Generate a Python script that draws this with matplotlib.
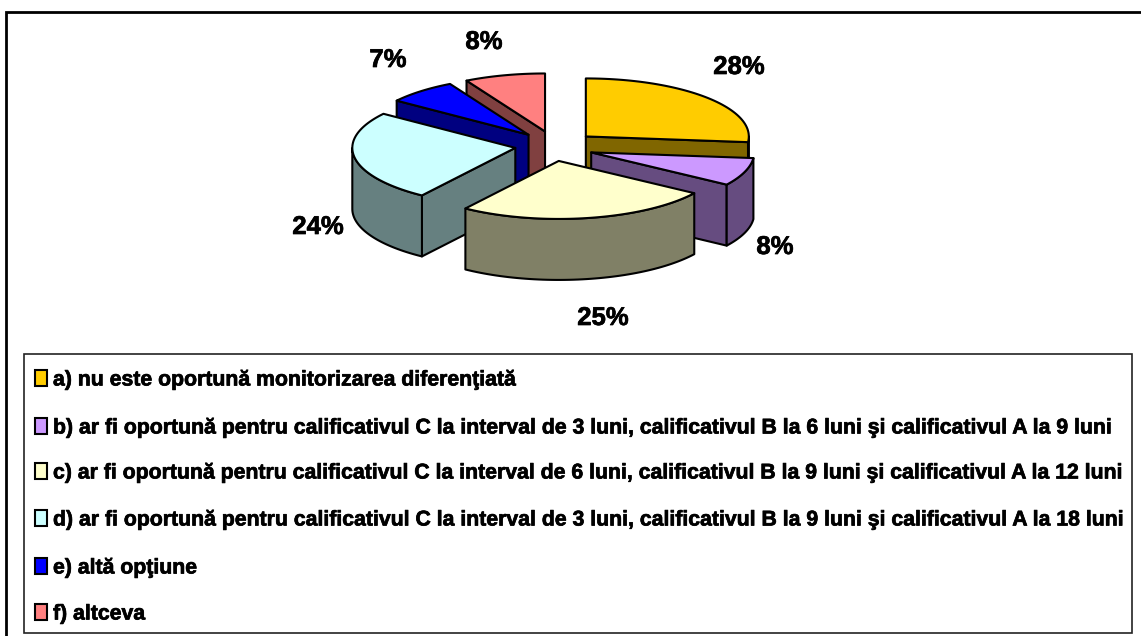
import numpy as np
import matplotlib
matplotlib.use("Agg")
import matplotlib.pyplot as plt
import matplotlib.patheffects as pe
from matplotlib.patches import Polygon, Rectangle

plt.rcParams['font.family'] = ['Liberation Sans', 'DejaVu Sans']

# percent values of the slices, clockwise from 12 o'clock
values = [28, 8, 25, 24, 7, 8]
labels = ["28%", "8%", "25%", "24%", "7%", "8%"]
top_colors = ["#FFCC00", "#CC99FF", "#FFFFCC", "#CCFFFF", "#0000FF", "#FF8080"]
side_colors = ["#806600", "#664C80", "#808066", "#668080", "#000080", "#804040"]
legend_texts = [
    "a) nu este oportună monitorizarea diferenţiată",
    "b) ar fi oportună pentru calificativul C la interval de 3 luni, calificativul B la 6 luni şi calificativul A la 9 luni",
    "c) ar fi oportună pentru calificativul C la interval de 6 luni, calificativul B la 9 luni şi calificativul A la 12 luni",
    "d) ar fi oportună pentru calificativul C la interval de 3 luni, calificativul B la 9 luni şi calificativul A la 18 luni",
    "e) altă opţiune",
    "f) altceva",
]

# pie geometry in pixels
CX, CY = 555, 146
RX, RY = 163, 58
DEPTH = 61
EXPLODE_X, EXPLODE_Y = 40, 15
LABEL_POS = [(739, 67), (775, 247), (603, 318), (318, 227), (388, 60), (484, 42)]
LEGEND_Y = [378, 426, 471, 518, 566, 612]

fig = plt.figure(figsize=(11.41, 6.36), dpi=100)
ax = fig.add_axes([0, 0, 1, 1])
ax.set_xlim(0, 1141)
ax.set_ylim(636, 0)
ax.axis("off")

# outer frame runs off the right and bottom of the picture
ax.add_patch(Rectangle((6, 12), 1150, 660, fc="white", ec="black", lw=2))


def warp(t):
    # the 3D view squeezes the angles on the front side a little
    t = np.asarray(t, dtype=float)
    end = np.radians(306)
    return np.where(t < end, t - np.radians(6) * np.sin(t * np.pi / end), t)


def rim(cx, cy, t0, t1, dy=0):
    t = np.linspace(t0, t1, 60)
    return np.column_stack([cx + RX * np.sin(t), cy - RY * np.cos(t) + dy])


def face(points, color, z):
    ax.add_patch(Polygon(points, closed=True, fc=color, ec="black", lw=1.5,
                         joinstyle="round", zorder=z))


raw_edges = np.radians(np.concatenate([[0], np.cumsum(values)]) * 3.6)
edges = warp(raw_edges)

# painter's order: back slices first
for z, i in enumerate([5, 4, 3, 0, 1, 2]):
    t0, t1 = edges[i], edges[i + 1]
    mid = (raw_edges[i] + raw_edges[i + 1]) / 2
    cx = CX + EXPLODE_X * np.sin(mid)
    cy = CY - EXPLODE_Y * np.cos(mid)
    zz = z * 10 + 2
    for t, visible in ((t0, np.sin(t0) < 0), (t1, np.sin(t1) > 0)):
        if visible:
            e = rim(cx, cy, t, t)[0]
            face([(cx, cy), e, (e[0], e[1] + DEPTH), (cx, cy + DEPTH)], side_colors[i], zz)
    a, b = max(t0, np.pi / 2), min(t1, 3 * np.pi / 2)
    if a < b:
        top = rim(cx, cy, a, b)
        bottom = rim(cx, cy, a, b, DEPTH)[::-1]
        face(np.vstack([top, bottom]), side_colors[i], zz + 1)
    face(np.vstack([[(cx, cy)], rim(cx, cy, t0, t1)]), top_colors[i], zz + 2)

heavy = [pe.withStroke(linewidth=0.5, foreground="black")]

for pos, lab in zip(LABEL_POS, labels):
    ax.text(pos[0], pos[1], lab, ha="center", va="center", fontsize=18.5,
            fontweight="bold", color="black", zorder=100, path_effects=heavy)

# legend box
ax.add_patch(Rectangle((24, 354), 1108, 279, fc="white", ec="#222222", lw=1.2, zorder=90))
for y, txt, col in zip(LEGEND_Y, legend_texts, top_colors):
    ax.add_patch(Rectangle((35, y - 8), 12, 16, fc=col, ec="black", lw=1.5, zorder=91))
    ax.text(53, y + 2, txt, ha="left", va="center", fontsize=15.3, fontweight="bold",
            color="black", zorder=92, path_effects=heavy)

fig.savefig("out.png", dpi=100)
